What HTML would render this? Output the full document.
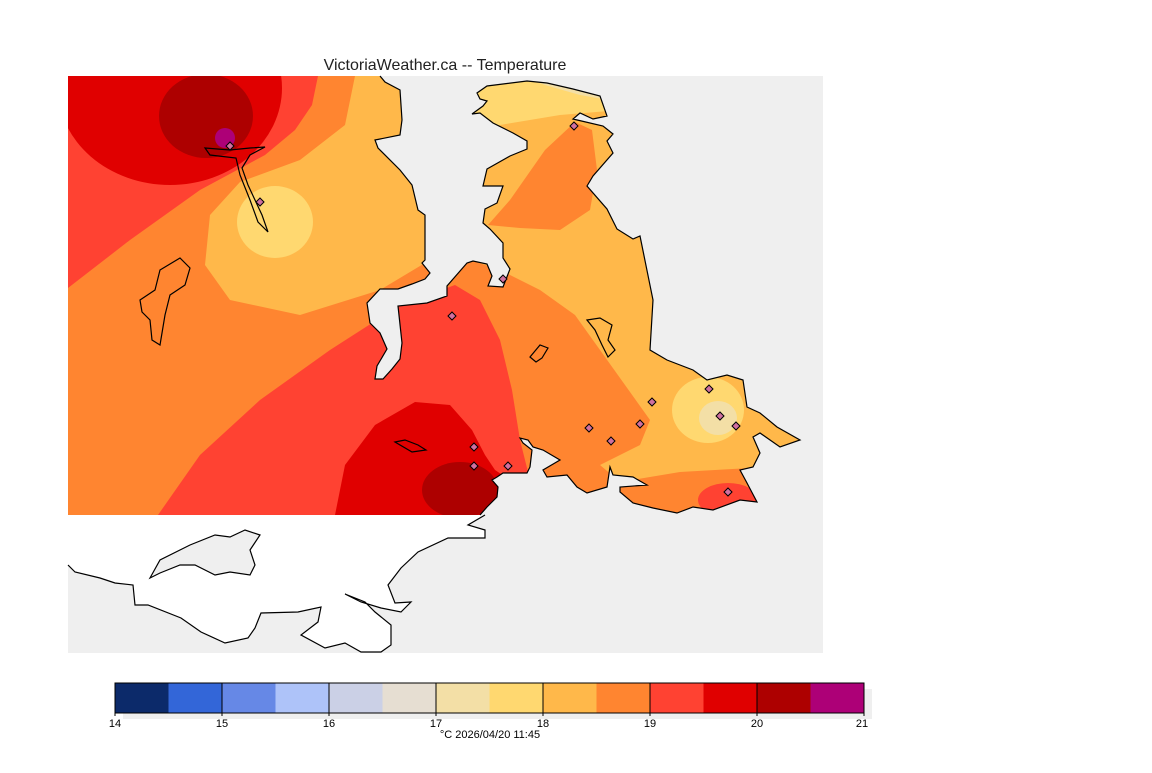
<!DOCTYPE html>
<html><head><meta charset="utf-8"><style>
html,body{margin:0;padding:0;background:#fff;}
svg text{font-family:"Liberation Sans","DejaVu Sans",sans-serif;}
</style></head><body>
<svg width="1152" height="768" viewBox="0 0 1152 768" xmlns="http://www.w3.org/2000/svg">
<defs>
<clipPath id="land"><path d="M68,76 L380,76 385,82 400,90 402,120 400,135 375,140 378,148 400,170 412,185 418,210 425,215 425,260 422,263 430,273 425,279 412,284 398,289 380,289 367,303 370,323 380,333 387,349 377,366 375,379 383,379 392,369 400,359 402,343 398,306 427,303 447,296 447,286 467,263 473,261 487,264 492,276 488,286 503,287 510,269 503,258 503,243 490,229 483,223 485,209 497,203 503,186 483,186 487,169 510,156 527,149 527,141 513,133 493,123 480,113 472,114 483,106 487,101 480,99 477,93 487,86 527,81 547,83 573,89 600,96 607,116 593,119 580,113 573,119 603,126 613,134 607,141 613,153 593,176 587,186 607,209 617,229 633,239 640,236 653,300 650,350 667,360 693,370 707,380 727,375 743,380 747,407 760,413 777,427 800,440 780,447 760,433 753,437 760,453 753,467 740,470 747,483 757,502 740,500 713,510 693,507 677,513 653,508 633,503 620,492 620,487 647,485 633,477 613,475 610,467 607,487 587,493 577,487 567,475 547,477 543,470 560,460 543,450 533,447 528,440 520,438 523,443 532,450 530,467 527,473 503,473 497,477 492,480 498,487 497,497 487,507 480,515 68,515 Z"/></clipPath>
</defs>
<rect x="68" y="76" width="755" height="577" fill="#efefef"/>
<path d="M68,515 L485,515 468,525 485,530 485,538 448,538 418,552 401,568 388,585 395,603 411,602 401,612 381,608 361,602 345,594 365,602 375,612 391,625 391,645 381,652 361,652 345,643 325,648 301,635 318,622 321,607 298,612 261,613 255,628 248,638 225,643 201,632 181,618 148,605 135,605 133,585 115,583 100,578 75,572 68,565 Z" fill="#fff"/>
<path d="M485,515 L468,525 485,530 485,538 448,538 418,552 401,568 388,585 395,603 411,602 401,612 381,608 361,602 345,594 365,602 375,612 391,625 391,645 381,652 361,652 345,643 325,648 301,635 318,622 321,607 298,612 261,613 255,628 248,638 225,643 201,632 181,618 148,605 135,605 133,585 115,583 100,578 75,572 68,565" fill="none" stroke="#000" stroke-width="1.2"/>
<path d="M150,578 L160,560 190,545 215,535 230,537 245,530 260,535 250,550 255,565 250,575 230,572 215,575 195,565 180,565 160,573 Z" fill="#efefef" stroke="#000" stroke-width="1.2"/>
<g clip-path="url(#land)">
<rect x="68" y="76" width="755" height="440" fill="#ff8530"/>
<path d="M68,76 L318,76 312,105 295,130 265,155 200,190 130,240 68,288 Z" fill="#ff4232"/>
<path d="M355,76 L430,76 430,260 380,290 300,315 230,300 205,265 210,215 240,182 300,160 345,125 Z" fill="#ffb84a"/>
<path d="M470,76 L823,76 823,470 750,468 680,472 620,482 600,465 640,445 650,420 625,385 600,350 575,315 540,290 500,270 470,260 Z" fill="#ffb84a"/>
<path d="M488,225 L510,200 545,150 575,122 592,130 597,170 590,210 560,230 520,228 Z" fill="#ff8530"/>
<path d="M470,76 L620,76 620,110 560,115 500,125 470,130 Z" fill="#ffd870"/>
<path d="M520,76 L620,76 620,102 580,95 545,85 Z" fill="#f3dfa6"/>
<ellipse cx="170" cy="88" rx="112" ry="97" fill="#e00000"/>
<ellipse cx="206" cy="116" rx="47" ry="42" fill="#ad0000"/>
<circle cx="225" cy="138" r="10" fill="#ad0077"/>
<ellipse cx="275" cy="222" rx="38" ry="36" fill="#ffd870"/>
<ellipse cx="708" cy="410" rx="36" ry="33" fill="#ffd870"/>
<ellipse cx="718" cy="418" rx="19" ry="17" fill="#f3dfa6"/>
<path d="M158,515 L200,455 260,400 330,350 400,305 455,285 480,300 500,340 512,390 520,440 530,480 530,515 Z" fill="#ff4232"/>
<path d="M335,515 L345,465 375,425 415,402 450,405 472,430 485,455 495,470 510,480 500,515 Z" fill="#e00000"/>
<ellipse cx="460" cy="490" rx="38" ry="28" fill="#ad0000"/>
<ellipse cx="728" cy="500" rx="30" ry="17" fill="#ff4232"/>
</g>
<path d="M380,76 L385,82 400,90 402,120 400,135 375,140 378,148 400,170 412,185 418,210 425,215 425,260 422,263 430,273 425,279 412,284 398,289 380,289 367,303 370,323 380,333 387,349 377,366 375,379 383,379 392,369 400,359 402,343 398,306 427,303 447,296 447,286 467,263 473,261 487,264 492,276 488,286 503,287 510,269 503,258 503,243 490,229 483,223 485,209 497,203 503,186 483,186 487,169 510,156 527,149 527,141 513,133 493,123 480,113 472,114 483,106 487,101 480,99 477,93 487,86 527,81 547,83 573,89 600,96 607,116 593,119 580,113 573,119 603,126 613,134 607,141 613,153 593,176 587,186 607,209 617,229 633,239 640,236 653,300 650,350 667,360 693,370 707,380 727,375 743,380 747,407 760,413 777,427 800,440 780,447 760,433 753,437 760,453 753,467 740,470 747,483 757,502 740,500 713,510 693,507 677,513 653,508 633,503 620,492 620,487 647,485 633,477 613,475 610,467 607,487 587,493 577,487 567,475 547,477 543,470 560,460 543,450 533,447 528,440 520,438 523,443 532,450 530,467 527,473 503,473 497,477 492,480 498,487 497,497 487,507 480,515" fill="none" stroke="#000" stroke-width="1.2"/>
<g fill="none" stroke="#000" stroke-width="1.2">
<path d="M140,300 L155,290 160,270 180,258 190,268 185,285 170,295 165,315 160,345 152,340 150,320 142,312 Z"/>
<path d="M205,148 L230,150 250,148 265,147 250,155 242,168 248,185 255,200 262,215 268,232 258,222 250,200 240,175 236,158 210,155 Z"/>
<path d="M587,320 L600,318 612,325 608,340 615,350 608,357 602,345 595,330 Z"/>
<path d="M530,357 L540,345 548,348 542,358 536,362 Z"/>
<path d="M395,442 L405,440 418,445 426,450 412,452 Z"/>
</g>
<g fill="#d070a0" stroke="#000" stroke-width="1">
<path d="M230,142 l4,4 -4,4 -4,-4 Z"/><path d="M260,198 l4,4 -4,4 -4,-4 Z"/>
<path d="M574,122 l4,4 -4,4 -4,-4 Z"/><path d="M503,275 l4,4 -4,4 -4,-4 Z"/>
<path d="M452,312 l4,4 -4,4 -4,-4 Z"/><path d="M652,398 l4,4 -4,4 -4,-4 Z"/>
<path d="M709,385 l4,4 -4,4 -4,-4 Z"/><path d="M720,412 l4,4 -4,4 -4,-4 Z"/>
<path d="M736,422 l4,4 -4,4 -4,-4 Z"/><path d="M640,420 l4,4 -4,4 -4,-4 Z"/>
<path d="M589,424 l4,4 -4,4 -4,-4 Z"/><path d="M611,437 l4,4 -4,4 -4,-4 Z"/>
<path d="M474,443 l4,4 -4,4 -4,-4 Z"/><path d="M474,462 l4,4 -4,4 -4,-4 Z"/>
<path d="M508,462 l4,4 -4,4 -4,-4 Z"/><path d="M728,488 l4,4 -4,4 -4,-4 Z"/>
</g>
<text x="445" y="70" font-size="16" fill="#222" text-anchor="middle">VictoriaWeather.ca -- Temperature</text>
<rect x="123" y="689" width="749" height="30" fill="#efefef"/>
<g>
<rect x="115" y="683" width="54" height="30" fill="#0c2a6a"/>
<rect x="168.5" y="683" width="54" height="30" fill="#3366d8"/>
<rect x="222" y="683" width="54" height="30" fill="#6688e6"/>
<rect x="275.5" y="683" width="54" height="30" fill="#aec3f9"/>
<rect x="329" y="683" width="54" height="30" fill="#cbd0e6"/>
<rect x="382.5" y="683" width="54" height="30" fill="#e6ded2"/>
<rect x="436" y="683" width="54" height="30" fill="#f3dfa6"/>
<rect x="489.5" y="683" width="54" height="30" fill="#ffd870"/>
<rect x="543" y="683" width="54" height="30" fill="#ffb84a"/>
<rect x="596.5" y="683" width="54" height="30" fill="#ff8530"/>
<rect x="650" y="683" width="54" height="30" fill="#ff4232"/>
<rect x="703.5" y="683" width="54" height="30" fill="#e00000"/>
<rect x="757" y="683" width="54" height="30" fill="#ad0000"/>
<rect x="810.5" y="683" width="53.5" height="30" fill="#ad0077"/>
</g>
<rect x="115" y="683" width="749" height="30" fill="none" stroke="#000" stroke-width="1"/>
<g stroke="#000" stroke-width="1">
<line x1="222" y1="683" x2="222" y2="716"/><line x1="329" y1="683" x2="329" y2="716"/>
<line x1="436" y1="683" x2="436" y2="716"/><line x1="543" y1="683" x2="543" y2="716"/>
<line x1="650" y1="683" x2="650" y2="716"/><line x1="757" y1="683" x2="757" y2="716"/>
<line x1="115" y1="713" x2="115" y2="716"/><line x1="864" y1="713" x2="864" y2="716"/>
</g>
<g font-size="11" fill="#000" text-anchor="middle">
<text x="115" y="727">14</text><text x="222" y="727">15</text><text x="329" y="727">16</text>
<text x="436" y="727">17</text><text x="543" y="727">18</text><text x="650" y="727">19</text>
<text x="757" y="727">20</text><text x="862" y="727">21</text>
<text x="490" y="738">°C  2026/04/20 11:45</text>
</g>
</svg>
</body></html>
